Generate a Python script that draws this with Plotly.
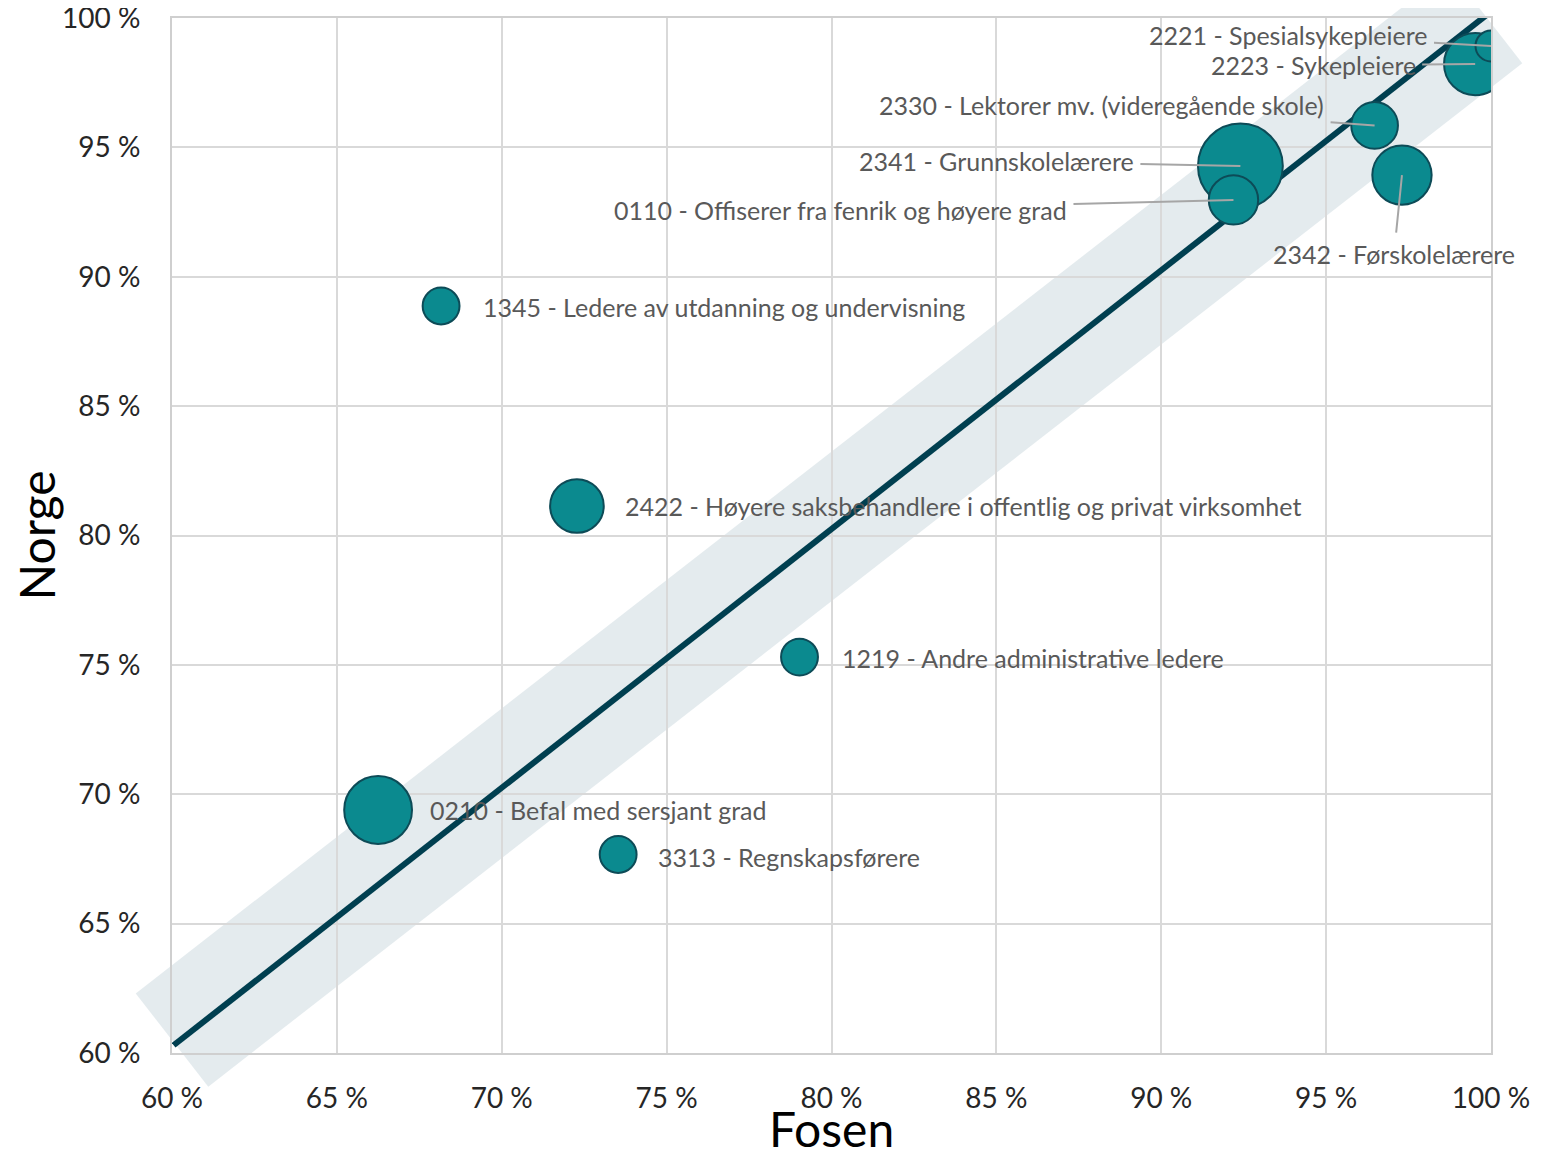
import plotly.graph_objects as go

# ---------------------------------------------------------------------------
# Data: share (%) in Fosen vs Norge per occupation, bubble = group size
# ---------------------------------------------------------------------------
labels = [
    "2223 - Sykepleiere",
    "2221 - Spesialsykepleiere",
    "2330 - Lektorer mv. (videregående skole)",
    "2341 - Grunnskolelærere",
    "0110 - Offiserer fra fenrik og høyere grad",
    "2342 - Førskolelærere",
    "1345 - Ledere av utdanning og undervisning",
    "2422 - Høyere saksbehandlere i offentlig og privat virksomhet",
    "1219 - Andre administrative ledere",
    "0210 - Befal med sersjant grad",
    "3313 - Regnskapsførere",
]
fosen = [99.52, 100.0, 96.47, 92.40, 92.19, 97.30, 68.16, 72.28, 79.03, 66.25, 73.53]
norge = [98.22, 98.92, 95.85, 94.28, 92.97, 93.93, 88.87, 81.14, 75.30, 69.39, 67.67]
bubble = [194, 48, 109, 360, 122, 176, 68, 144, 68, 230, 68]

# reference line y = x and the band around it
diag_x = [60.05, 99.85]
diag_y = [60.3, 100.1]
band_x = [60.0, 99.85]
band_y = [60.5, 100.05]

ticks = [60, 65, 70, 75, 80, 85, 90, 95, 100]
tick_text = [f"{t} %" for t in ticks]

# ---------------------------------------------------------------------------
# Styling / placement
# ---------------------------------------------------------------------------
FONT = "Lato"
TEAL = "#0b8a8f"
DARK = "#003f50"
LABEL_GREY = "#595959"
LEADER_GREY = "#a6a6a6"

# page body has an 8px margin, so the figure is offset by that
W, H = 1539, 1144
M = dict(l=164, r=56, t=10, b=99)
PW = W - M["l"] - M["r"]
PH = H - M["t"] - M["b"]
X0, X1, Y0, Y1 = 60, 100, 60, 100

# label offsets in px: (dx, dy, leader)
label_pos = {
    0: (-162, 1, True),
    1: (-203, -11, True),
    2: (-273, -20, True),
    3: (-244, -5, True),
    4: (-393, 10, True),
    5: (-8, 79, True),
    6: (40, 1, False),
    7: (46, 0, False),
    8: (40, 1, False),
    9: (50, 0, False),
    10: (38, 2, False),
}

fig = go.Figure()

# band (drawn in paper coords so it can run past the axes)
def to_px(xv, yv):
    return (xv - X0) / (X1 - X0) * PW, (yv - Y0) / (Y1 - Y0) * PH

half = 59
(ax0, ay0), (ax1, ay1) = to_px(band_x[0], band_y[0]), to_px(band_x[1], band_y[1])
dx, dy = ax1 - ax0, ay1 - ay0
ln = (dx ** 2 + dy ** 2) ** 0.5
nx, ny = -dy / ln * half, dx / ln * half
corners = [
    (ax0 + nx, ay0 + ny), (ax1 + nx, ay1 + ny),
    (ax1 - nx, ay1 - ny), (ax0 - nx, ay0 - ny),
]
path = "M " + " L ".join(f"{cx / PW:.4f},{cy / PH:.4f}" for cx, cy in corners) + " Z"
fig.add_shape(
    type="path", path=path, xref="paper", yref="paper",
    fillcolor="rgba(196,210,218,0.45)", line=dict(width=0), layer="below",
)

fig.add_trace(go.Scatter(
    x=diag_x, y=diag_y, mode="lines",
    line=dict(color=DARK, width=6),
    hoverinfo="skip", showlegend=False,
))

fig.add_trace(go.Scatter(
    x=fosen, y=norge, mode="markers",
    marker=dict(
        size=bubble, sizemode="area", sizeref=0.1,
        color=TEAL, opacity=1,
        line=dict(color="#0d4b57", width=2),
    ),
    text=labels,
    hovertemplate="%{text}<br>Fosen: %{x:.1f} %<br>Norge: %{y:.1f} %<extra></extra>",
    showlegend=False,
))

for i, lab in enumerate(labels):
    ox, oy, leader = label_pos[i]
    if leader:
        fig.add_annotation(
            x=fosen[i], y=norge[i], text=lab,
            showarrow=True, arrowhead=0, arrowwidth=2, arrowcolor=LEADER_GREY,
            ax=ox, ay=oy, standoff=0, borderpad=6,
            font=dict(family=FONT, size=25, color=LABEL_GREY),
        )
    else:
        fig.add_annotation(
            x=fosen[i], y=norge[i], text=lab, showarrow=False,
            xanchor="left", yanchor="middle", xshift=ox, yshift=-oy,
            font=dict(family=FONT, size=25, color=LABEL_GREY),
        )

# x-axis title as an annotation so it can sit right at the bottom edge
fig.add_annotation(
    x=0.5, y=0, xref="paper", yref="paper", text="Fosen", showarrow=False,
    xanchor="center", yanchor="middle", yshift=-75,
    font=dict(family=FONT, size=48, color="black"),
)

axis_common = dict(
    range=[X0, X1], tickmode="array", tickvals=ticks, ticktext=tick_text,
    showgrid=True, gridcolor="#d9d9d9", gridwidth=2,
    showline=True, linecolor="#cfcfcf", linewidth=2, mirror=True,
    zeroline=False, ticks="outside", tickcolor="rgba(0,0,0,0)",
    tickfont=dict(family=FONT, size=28, color="#262626"),
    ticklabeloverflow="allow",
    automargin=False,
)

fig.update_layout(
    width=W, height=H,
    margin=M,
    template="plotly_white",
    plot_bgcolor="white", paper_bgcolor="white",
    xaxis=dict(axis_common, ticklen=19),
    yaxis=dict(axis_common, ticklen=24, range=[Y0, Y1],
               title=dict(text="Norge", font=dict(family=FONT, size=48, color="black"), standoff=8)),
    showlegend=False,
)

fig.write_html("out.html")
